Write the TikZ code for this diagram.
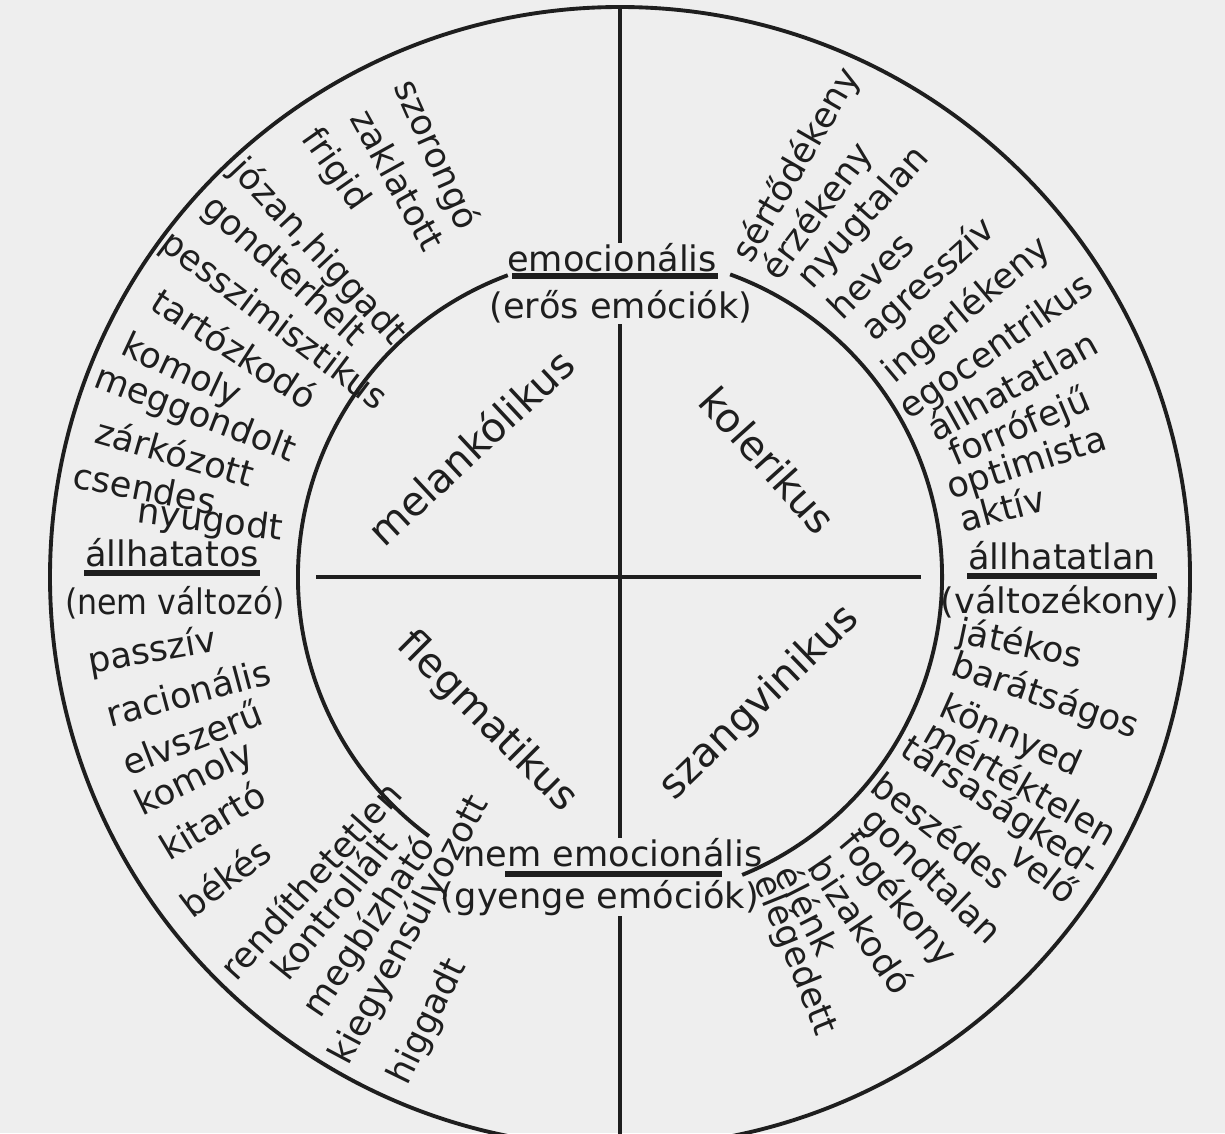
\documentclass[tikz,border=0pt]{standalone}
\usepackage{fontspec}
\setmainfont{DejaVu Sans}
\usetikzlibrary{calc}
\definecolor{Ink}{HTML}{1E1E1E}
\definecolor{Paper}{HTML}{EEEEEE}
\tikzset{
  trait/.style={font=\fontsize{10}{12}\selectfont, text=Ink, inner sep=0pt},
  temper/.style={font=\fontsize{11.5}{13}\selectfont, text=Ink, inner sep=0pt},
  pole/.style={font=\fontsize{10}{12}\selectfont, text=Ink, inner sep=0pt},
  ringline/.style={draw=Ink, line width=1.1pt},
  uline/.style={draw=Ink, line width=1.5pt},
}

\begin{document}
\begin{tikzpicture}[x=0.01cm, y=0.01cm]
\useasboundingbox (0,0) rectangle (1225,-1133);
\fill[Paper] (0,0) rectangle (1225,-1133);
\clip (0,0) rectangle (1225,-1133);

\coordinate (center) at (620,-577);
\coordinate (top) at ($(center)+(90:570)$);
\coordinate (bottom) at ($(center)+(270:570)$);
\coordinate (west) at ($(center)+(180:304)$);
\coordinate (east) at ($(center)+(0:301)$);

% rings
\draw[ringline] (center) circle (570);
\draw[ringline] ($(center)+(110.4:322)$) arc[start angle=110.4, end angle=233.6, radius=322];
\draw[ringline] ($(center)+(292.3:322)$) arc[start angle=292.3, end angle=430, radius=322];

% poles
\node[pole] (emo) at (612,-258) {emocionális};
\node[pole] (emo-sub) at (621,-307) {(erős emóciók)};
\node[pole] (nemo) at (613,-853) {nem emocionális};
\node[pole] (nemo-sub) at (600,-898) {(gyenge emóciók)};
\node[pole] (stab) at (172,-553) {állhatatos};
\node[pole] (stab-sub) at (175,-603) {\scalebox{0.9}[1]{(nem változó)}};
\node[pole] (unst) at (1062,-556) {állhatatlan};
\node[pole] (unst-sub) at (1060,-603) {(változékony)};

\draw[uline] ($(emo.south west)+(6,-3)$) -- ($(emo.south east)+(0,-3)$);
\draw[uline] ($(nemo.south)+(-108,-6)$) -- ($(nemo.south)+(109,-6)$);
\draw[uline] ($(stab.south west)+(0,-5)$) -- ($(stab.south east)+(0,-5)$);
\draw[uline] ($(unst.south west)+(0,-5)$) -- ($(unst.south east)+(0,-5)$);

% axes
\draw[ringline] (top) -- (emo.north -| center);
\draw[ringline] (emo-sub.south -| center) -- (nemo.north -| center);
\draw[ringline] (nemo-sub.south -| center) -- (bottom);
\draw[ringline] (west) -- (east);

% temperaments
\node[temper, rotate=43] (mel) at (470,-447) {melankólikus};
\node[temper, rotate=-48] (chol) at (768,-460) {kolerikus};
\node[temper, rotate=-45] (phleg) at (487,-722) {flegmatikus};
\node[temper, rotate=44] (sang) at (760,-703) {szangvinikus};

% melankolikus words
\foreach \px/\py/\ang/\word [count=\i] in {
  435/155/-66/szorongó, 398/180/-61/zaklatott, 335/170/-55/frigid,
  318/252/-47/{józan,higgadt}, 283/272/-42/gondterhelt,
  273/322/-37/pesszimisztikus, 235/348/-33/tartózkodó,
  181/372/-25/komoly, 195/415/-21/meggondolt, 175/452/-16/zárkózott,
  145/488/-11/csendes, 210/522/-7/nyugodt}
  \node[trait, rotate=\ang] (mel-\i) at (\px,-\py) {\word};

% flegmatikus words
\foreach \px/\py/\ang/\word [count=\i] in {
  152/652/10/passzív, 188/692/15/racionális, 192/737/21/elvszerű,
  195/780/26/komoly, 212/820/31/kitartó, 225/877/37/békés,
  310/880/48/rendíthetetlen, 333/905/51/kontrollált,
  370/927/56/megbízható, 410/930/62/kiegyensúlyozott, 428/1022/64/higgadt}
  \node[trait, rotate=\ang] (phleg-\i) at (\px,-\py) {\word};

% kolerikus words
\foreach \px/\py/\ang/\word [count=\i] in {
  797/165/60/sértődékeny, 818/212/53/érzékeny, 864/218/48/nyugtalan,
  870/275/45/heves, 929/280/42/agresszív, 967/310/40/ingerlékeny,
  997/348/35/egocentrikus, 1012/385/29/állhatatlan, 1020/428/23/forrófejű,
  1027/465/18/optimista, 1002/508/15/aktív}
  \node[trait, rotate=\ang] (chol-\i) at (\px,-\py) {\word};

% szangvinikus words
\foreach \px/\py/\ang/\word [count=\i] in {
  1020/645/-12/játékos, 1045/697/-19/barátságos, 1010/737/-24/könnyed,
  1022/782/-30/mértéktelen, 1000/808/-33/társaságked-, 942/830/-38/beszédes,
  1045/872/-38/velő, 930/877/-44/gondtalan, 897/900/-50/fogékony,
  862/925/-56/bizakodó, 808/910/-63/élénk, 795/955/-68/elégedett}
  \node[trait, rotate=\ang] (sang-\i) at (\px,-\py) {\word};
\end{tikzpicture}
\end{document}
